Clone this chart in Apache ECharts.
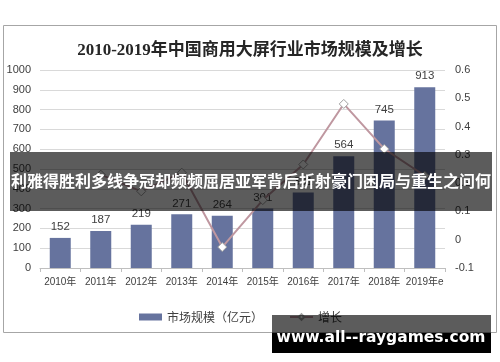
<!DOCTYPE html>
<html><head><meta charset="utf-8">
<script src="https://cdn.jsdelivr.net/npm/echarts@6/dist/echarts.min.js"></script>
<style>html,body{margin:0;padding:0;background:#fff}#c{width:500px;height:362px}</style>
</head><body><div id="c"></div>
<script>
var titleText = '2010-2019年中国商用大屏行业市场规模及增长';
var categories = ['2010年','2011年','2012年','2013年','2014年','2015年','2016年','2017年','2018年','2019年e'];
var marketSize = [152, 187, 219, 271, 264, 301, 381, 564, 745, 913];
var growth = [null, 0.23, 0.171, 0.237, -0.026, 0.14, 0.266, 0.48, 0.321, 0.226];
var leftTicks = {min: 0, max: 1000, interval: 100};
var rightTicks = {min: -0.1, max: 0.6, interval: 0.1};
var seriesNames = ['市场规模（亿元）', '增长'];
var bannerText = '利雅得胜利多线争冠却频频屈居亚军背后折射豪门困局与重生之问何';
var watermark = 'www.all--raygames.com';

var chart = echarts.init(document.getElementById('c'), null, {renderer: 'canvas'});
chart.setOption({
  animation: false,
  backgroundColor: '#fff',
  title: {
    text: titleText, left: 'center', top: 37,
    textStyle: {fontFamily: 'Liberation Serif, Noto Sans CJK SC', fontSize: 17, fontWeight: 'bold', color: '#262626'}
  },
  grid: {left: 40, right: 55, top: 70, bottom: 94, containLabel: false},
  legend: {
    left: 134, top: 306, itemWidth: 23, itemHeight: 7, itemGap: 26,
    textStyle: {fontFamily: 'Noto Sans CJK SC', fontSize: 12, color: '#404040'},
    data: [{name: seriesNames[0], icon: 'rect'}, {name: seriesNames[1]}]
  },
  xAxis: {
    type: 'category', data: categories,
    axisLine: {lineStyle: {color: '#bfbfbf'}},
    axisTick: {show: true, length: 4, lineStyle: {color: '#bfbfbf'}},
    axisLabel: {fontFamily: 'Liberation Sans, Noto Sans CJK SC', fontSize: 10, color: '#404040', margin: 9, interval: 0}
  },
  yAxis: [{
    type: 'value', min: leftTicks.min, max: leftTicks.max, interval: leftTicks.interval,
    axisLine: {show: false}, axisTick: {show: false},
    axisLabel: {fontFamily: 'Liberation Sans', fontSize: 11, color: '#404040', margin: 9,
      formatter: function (v) { return String(Math.round(v)); }},
    splitLine: {lineStyle: {color: '#d9d9d9'}}
  }, {
    type: 'value', min: rightTicks.min, max: rightTicks.max, interval: rightTicks.interval,
    axisLine: {show: false}, axisTick: {show: false},
    axisLabel: {fontFamily: 'Liberation Sans', fontSize: 11, color: '#404040', margin: 10,
      formatter: function (v) { return String(+v.toFixed(1)); }},
    splitLine: {show: false}
  }],
  series: [{
    name: seriesNames[0], type: 'bar', data: marketSize, barWidth: 21, yAxisIndex: 0,
    itemStyle: {color: '#66739e'},
    label: {show: true, position: 'top', distance: 5, fontFamily: 'Liberation Sans', fontSize: 11.5, color: '#404040'}
  }, {
    name: seriesNames[1], type: 'line', data: growth, yAxisIndex: 1,
    lineStyle: {color: '#bf97a0', width: 2},
    itemStyle: {color: '#ffffff', borderColor: '#a0a0a0', borderWidth: 1},
    symbol: 'diamond', symbolSize: 9, showSymbol: true, z: 3
  }],
  graphic: [
    {type: 'rect', shape: {x: 3.5, y: 25.5, width: 493, height: 307}, style: {fill: 'none', stroke: '#a6a6a6', lineWidth: 1}, z: 1},
    {type: 'rect', shape: {x: 10, y: 152, width: 482, height: 59}, style: {fill: 'rgba(0,0,0,0.64)'}, z: 100},
    {type: 'text', x: 251, y: 181, style: {text: bannerText, fill: '#ffffff', fontFamily: 'Noto Sans CJK SC', fontSize: 16, fontWeight: 'bold', align: 'center', verticalAlign: 'middle'}, z: 101},
    {type: 'rect', shape: {x: 272, y: 315, width: 219, height: 18}, style: {fill: 'rgba(0,0,0,0.64)'}, z: 100},
    {type: 'rect', shape: {x: 272, y: 333, width: 219, height: 20}, style: {fill: '#000000'}, z: 100},
    {type: 'text', x: 381, y: 338, style: {text: watermark, fill: '#ffffff', fontFamily: 'DejaVu Sans', fontSize: 15.5, fontWeight: 'bold', align: 'center', verticalAlign: 'middle'}, z: 101}
  ]
});
</script></body></html>
